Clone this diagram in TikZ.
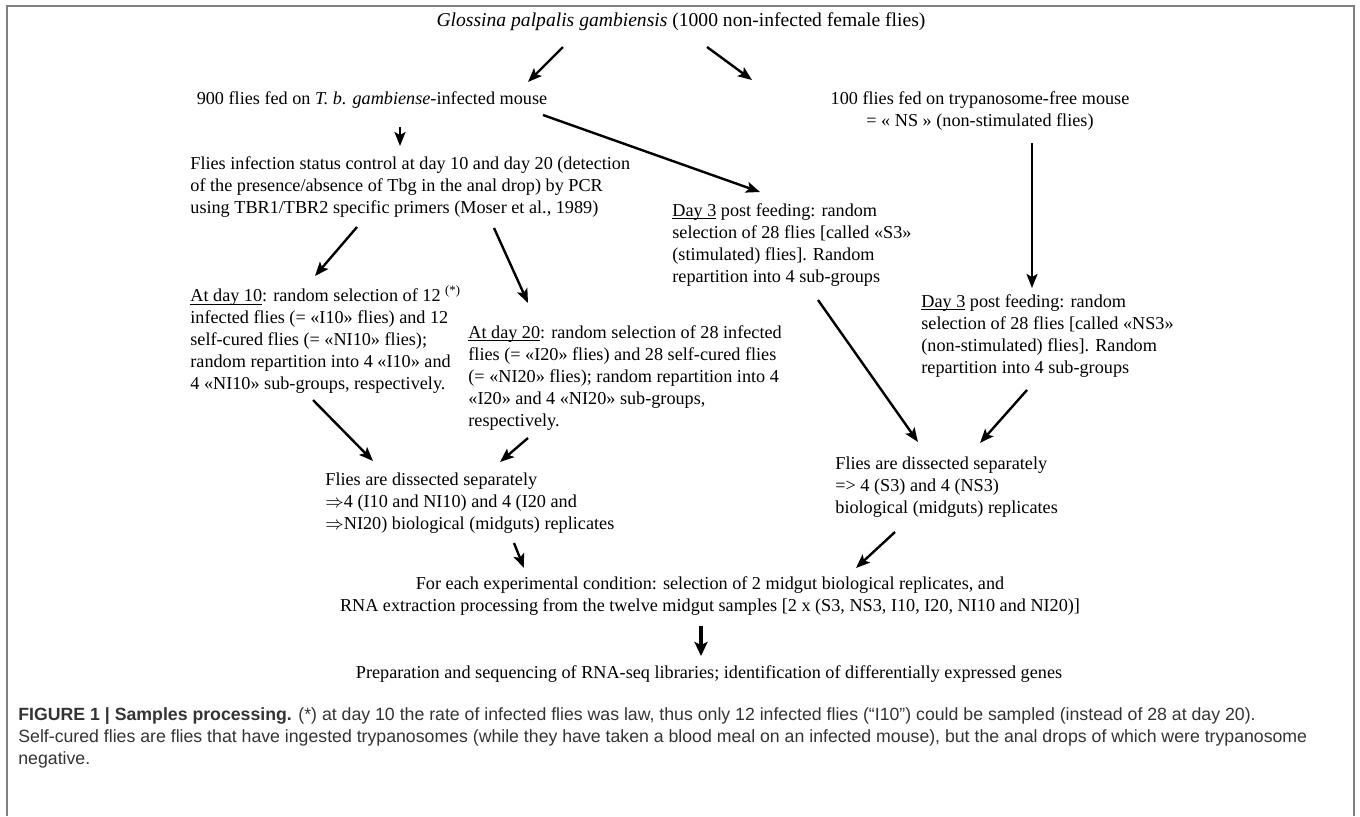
\documentclass[tikz,border=0pt]{standalone}
\usepackage{fontspec}
\setmainfont{Liberation Serif}
\setsansfont{Liberation Sans}
\usetikzlibrary{arrows.meta}

% underline sitting close to the baseline
\newcommand{\udl}[1]{\setbox0=\hbox{#1}\rlap{\rule[-1.3pt]{\wd0}{0.45pt}}\box0\relax}

\begin{document}
\begin{tikzpicture}[
    x=0.5pt, y=-0.5pt,
    % text blocks
    txt/.style={font=\fontsize{9.1}{11}\selectfont, inner sep=0pt, align=left, anchor=north west},
    ctr/.style={font=\fontsize{9.1}{11}\selectfont, inner sep=0pt, align=center},
    ttl/.style={font=\fontsize{9.8}{12}\selectfont, inner sep=0pt},
    capt/.style={font=\sffamily\fontsize{8.85}{11}\selectfont, inner sep=0pt, align=left, anchor=north west, text=black!80},
    % connectors
    arr/.style={-{Stealth[length=7pt,width=5.5pt,inset=1.5pt]}, line width=1.2pt},
    bigarr/.style={-{Stealth[length=7pt,width=6.5pt,inset=1.5pt]}, line width=2pt},
    frame/.style={draw=black!50, line width=1pt},
]

\useasboundingbox (0,0) rectangle (1360,816);
\draw[frame] (7,816) -- (7,6) -- (1354,6) -- (1354,816);

% -------------------------
% Top: starting flies and feeding
% -------------------------
\node[ttl] (title) at (681,22) {\textit{Glossina palpalis gambiensis} (1000 non-infected female flies)};
\node[ctr] (fed)  at (372,100) {900 flies fed on \textit{T. b. gambiense}-infected mouse};
\node[ctr] (free) at (980,111) {100 flies fed on trypanosome-free mouse\\= « NS » (non-stimulated flies)};

% -------------------------
% Middle: control and selections
% -------------------------
\node[txt] (ctrl) at (190,156) {Flies infection status control at day 10 and day 20 (detection\\of the presence/absence of Tbg in the anal drop) by PCR\\using TBR1/TBR2 specific primers (Moser et al., 1989)};
\node[txt] (s3)  at (672,203) {\udl{Day 3} post feeding: random\\selection of 28 flies [called «S3»\\(stimulated) flies]. Random\\repartition into 4 sub-groups};
\node[txt] (ns3) at (921,294) {\udl{Day 3} post feeding: random\\selection of 28 flies [called «NS3»\\(non-stimulated) flies]. Random\\repartition into 4 sub-groups};
\node[txt] (d10) at (190,285) {\udl{At day 10}: random selection of 12 \textsuperscript{(*)}\\infected flies (= «I10» flies) and 12\\self-cured flies (= «NI10» flies);\\random repartition into 4 «I10» and\\4 «NI10» sub-groups, respectively.};
\node[txt] (d20) at (468,325) {\udl{At day 20}: random selection of 28 infected\\flies (= «I20» flies) and 28 self-cured flies\\(= «NI20» flies); random repartition into 4\\«I20» and 4 «NI20» sub-groups,\\respectively.};

% -------------------------
% Bottom: dissection, RNA, sequencing
% -------------------------
\node[txt] (dissL) at (325,472) {Flies are dissected separately\\$\Rightarrow$4 (I10 and NI10) and 4 (I20 and\\$\Rightarrow$NI20) biological (midguts) replicates};
\node[txt] (dissR) at (835,456) {Flies are dissected separately\\=> 4 (S3) and 4 (NS3)\\biological (midguts) replicates};
\node[ctr] (each) at (710,596) {For each experimental condition: selection of 2 midgut biological replicates, and\\RNA extraction processing from the twelve midgut samples [2 x (S3, NS3, I10, I20, NI10 and NI20)]};
\node[ctr] (prep) at (709,674) {Preparation and sequencing of RNA-seq libraries; identification of differentially expressed genes};

\node[capt] (cap) at (18,707) {\textbf{FIGURE 1 | Samples processing.} (*) at day 10 the rate of infected flies was law, thus only 12 infected flies (“I10”) could be sampled (instead of 28 at day 20).\\Self-cured flies are flies that have ingested trypanosomes (while they have taken a blood meal on an infected mouse), but the anal drops of which were trypanosome\\negative.};

% -------------------------
% Arrows
% -------------------------
\draw[arr] ([shift={(-118,25)}]title.center) -- ([shift={(156,-18)}]fed.center);
\draw[arr] ([shift={(26,25)}]title.center) -- ([shift={(-228,-31)}]free.center);
\draw[arr] ([shift={(28,27)}]fed.center) -- ([shift={(210,-10)}]ctrl.north west);
\draw[arr] ([shift={(171,15)}]fed.center) -- ([shift={(88,-11)}]s3.north west);
\draw[arr] ([shift={(52,32)}]free.center) -- ([shift={(111,-6)}]ns3.north west);
\draw[arr] ([shift={(167,71)}]ctrl.north west) -- ([shift={(125,-9)}]d10.north west);
\draw[arr] ([shift={(304,72)}]ctrl.north west) -- ([shift={(60,-22)}]d20.north west);
\draw[arr] ([shift={(123,115)}]d10.north west) -- ([shift={(48,-11)}]dissL.north west);
\draw[arr] ([shift={(60,113)}]d20.north west) -- ([shift={(175,-10)}]dissL.north west);
\draw[arr] ([shift={(146,97)}]s3.north west) -- ([shift={(83,-14)}]dissR.north west);
\draw[arr] ([shift={(106,96)}]ns3.north west) -- ([shift={(145,-13)}]dissR.north west);
\draw[arr] ([shift={(189,71)}]dissL.north west) -- ([shift={(-186,-28)}]each.center);
\draw[arr] ([shift={(60,76)}]dissR.north west) -- ([shift={(146,-28)}]each.center);
\draw[bigarr] ([shift={(-9,30)}]each.center) -- ([shift={(-8,-18)}]prep.center);

\end{tikzpicture}
\end{document}
